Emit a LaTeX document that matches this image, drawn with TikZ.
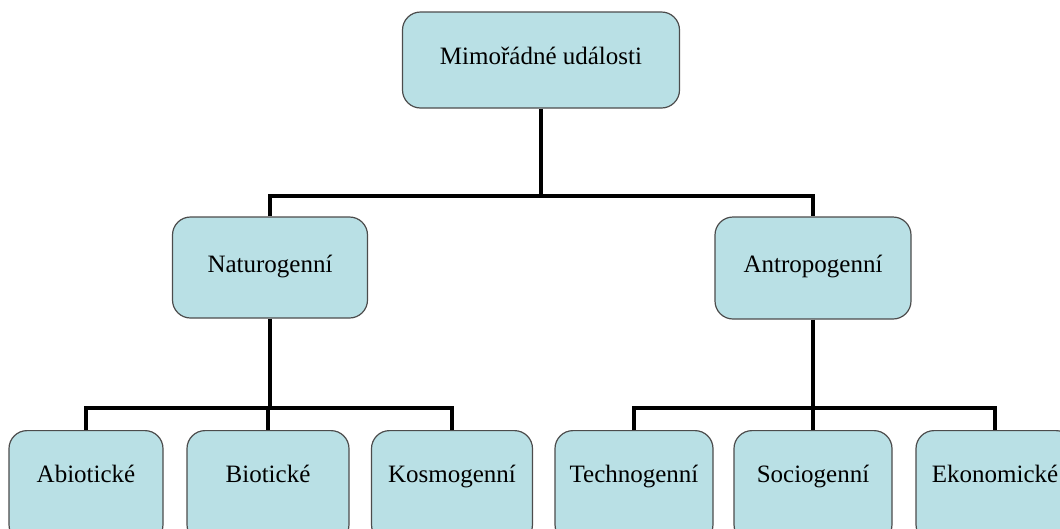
\documentclass[tikz,border=0pt]{standalone}
\usepackage{fontspec}
\setmainfont{Liberation Serif}
\definecolor{celeste}{RGB}{185,224,229}

\begin{document}
\begin{tikzpicture}[x=1pt,y=-1pt,
		caja/.style={draw=black!70,line width=1.2pt,fill=celeste,rounded corners=18pt,inner sep=0pt,
			text height=18pt,text depth=9pt,font=\fontsize{25}{30}\selectfont},
		hoja/.style={caja,anchor=north,minimum width=158pt,minimum height=112pt,text depth=26pt},
		rama/.style={line width=4pt}]
		\clip (0,0) rectangle (1060,528);
		% nivel 1
		\node[caja,minimum width=277pt,minimum height=96pt] (mim) at (541,60) {Mimořádné události};
		% nivel 2
		\node[caja,minimum width=195pt,minimum height=101pt] (nat) at (270,267.5) {Naturogenní};
		\node[caja,minimum width=196pt,minimum height=102pt] (ant) at (813,268) {Antropogenní};
		% nivel 3
		\node[hoja,minimum width=154pt] (abi) at (86,430) {Abiotické};
		\node[hoja,minimum width=162pt] (bio) at (268,430) {Biotické};
		\node[hoja,minimum width=161pt] (kos) at (452,430) {Kosmogenní};
		\node[hoja] (tec) at (634,430) {Technogenní};
		\node[hoja] (soc) at (813,430) {Sociogenní};
		\node[hoja] (eko) at (995,430) {Ekonomické};
		% ramas
		\coordinate (r0) at (541,196);
		\coordinate (r1) at (270,408);
		\coordinate (r2) at (813,408);
		\draw[rama] (mim.south) -- (r0);
		\draw[rama] (nat.north) |- (r0) -| (ant.north);
		\draw[rama] (nat.south) -- (r1);
		\draw[rama] (abi.north) |- (r1) -| (kos.north);
		\draw[rama] (r1) -| (bio.north);
		\draw[rama] (ant.south) -- (r2);
		\draw[rama] (tec.north) |- (r2) -| (eko.north);
		\draw[rama] (r2) -- (soc.north);
	\end{tikzpicture}
\end{document}
